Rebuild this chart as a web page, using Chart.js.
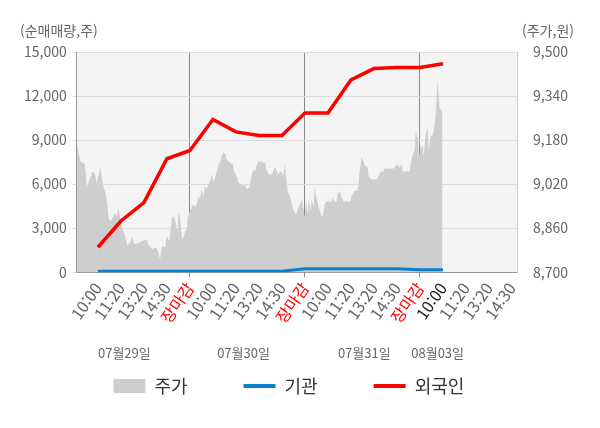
<!DOCTYPE html>
<html lang="ko">
<head>
  <meta charset="UTF-8">
  <title>순매매량 / 주가</title>
  <script src="https://cdn.jsdelivr.net/npm/chart.js"></script>
  <style>
    html, body { margin: 0; padding: 0; background: #fff; }
    #wrap { width: 600px; height: 428px; }
  </style>
</head>
<body>
  <div id="wrap"><canvas id="tradeChart"></canvas></div>
  <script>
    // x axis tick labels (one per step)
    const timeLabels = ["10:00", "11:20", "13:20", "14:30", "장마감",
                        "10:00", "11:20", "13:20", "14:30", "장마감",
                        "10:00", "11:20", "13:20", "14:30", "장마감",
                        "10:00", "11:20", "13:20", "14:30"];
    const dateLabels = ["07월29일", "07월30일", "07월31일", "08월03일"];
    const datePositions = [1.15, 6.33, 11.58, 14.77];

    const leftTicks = [0, 3000, 6000, 9000, 12000, 15000];
    const rightTicks = [8700, 8860, 9020, 9180, 9340, 9500];

    // net buying (shares), one value per time label
    const foreignNet = [1700, 3490, 4740, 7730, 8290, 10400, 9560, 9310, 9310,
                        10850, 10850, 13100, 13870, 13950, 13950, 14200];
    const institutionNet = [70, 70, 70, 70, 70, 70, 70, 70, 70,
                            230, 240, 240, 240, 240, 160, 160];

    // share price (won)
    const priceTimes = [-0.92, -0.83, -0.75, -0.66, -0.57, -0.53, -0.49, -0.44, -0.40, -0.31,
      -0.27, -0.19, -0.10, -0.06, 0.03, 0.12, 0.16, 0.25, 0.33, 0.42,
      0.46, 0.55, 0.68, 0.76, 0.81, 0.89, 0.98, 1.06, 1.19, 1.28,
      1.41, 1.50, 1.58, 1.84, 2.10, 2.19, 2.36, 2.53, 2.62, 2.70,
      2.79, 2.92, 3.00, 3.09, 3.13, 3.22, 3.31, 3.39, 3.44, 3.48,
      3.56, 3.65, 3.69, 3.78, 3.87, 3.91, 3.99, 4.08, 4.13, 4.25,
      4.38, 4.43, 4.51, 4.60, 4.64, 4.73, 4.81, 4.90, 4.94, 5.03,
      5.07, 5.16, 5.25, 5.33, 5.38, 5.46, 5.55, 5.59, 5.72, 5.86,
      5.94, 6.03, 6.11, 6.28, 6.42, 6.46, 6.58, 6.67, 6.75, 6.84,
      6.88, 6.97, 7.19, 7.27, 7.32, 7.44, 7.57, 7.62, 7.70, 7.79,
      7.83, 7.92, 8.00, 8.05, 8.13, 8.22, 8.26, 8.35, 8.39, 8.48,
      8.56, 8.61, 8.69, 8.78, 8.87, 8.91, 8.99, 9.04, 9.12, 9.16,
      9.25, 9.29, 9.38, 9.42, 9.51, 9.60, 9.68, 9.73, 9.81, 9.86,
      9.94, 10.07, 10.16, 10.20, 10.29, 10.38, 10.42, 10.51, 10.59, 10.64,
      10.68, 10.99, 11.03, 11.11, 11.20, 11.29, 11.33, 11.38, 11.46, 11.55,
      11.64, 11.72, 11.77, 11.85, 11.90, 12.11, 12.20, 12.28, 12.41, 12.45,
      12.88, 12.93, 13.09, 13.13, 13.18, 13.26, 13.56, 13.61, 13.69, 13.78,
      13.82, 13.91, 13.95, 14.04, 14.12, 14.16, 14.25, 14.34, 14.38, 14.47,
      14.55, 14.59, 14.68, 14.76, 14.81, 14.85, 14.94, 14.98];
    const priceValues = [9171, 9128, 9099, 9099, 9092, 9062, 9012, 9012, 9030, 9048,
      9062, 9066, 9048, 9019, 9055, 9081, 9048, 9008, 8990, 8939,
      8899, 8885, 8903, 8918, 8899, 8936, 8892, 8856, 8831, 8794,
      8812, 8827, 8802, 8809, 8820, 8802, 8783, 8791, 8773, 8747,
      8794, 8791, 8831, 8812, 8827, 8903, 8899, 8881, 8856, 8918,
      8903, 8831, 8820, 8845, 8856, 8903, 8918, 8939, 8947, 8936,
      8976, 8965, 9001, 8976, 9012, 9001, 9019, 9037, 9055, 9026,
      9037, 9066, 9092, 9102, 9121, 9135, 9128, 9110, 9099, 9092,
      9062, 9048, 9026, 9015, 9015, 9001, 9008, 9048, 9073, 9066,
      9084, 9102, 9099, 9099, 9073, 9055, 9055, 9066, 9084, 9066,
      9055, 9066, 9062, 9048, 9092, 9019, 8990, 8976, 8965, 8928,
      8918, 8910, 8928, 8947, 8965, 8936, 8899, 8965, 8910, 8965,
      8921, 8965, 8939, 9008, 8965, 8936, 8918, 8899, 8921, 8947,
      8957, 8957, 8954, 8972, 8954, 8957, 8983, 8994, 8972, 8965,
      8957, 8957, 8976, 8990, 8997, 8997, 9019, 9066, 9117, 9102,
      9084, 9084, 9048, 9041, 9037, 9037, 9048, 9066, 9066, 9077,
      9077, 9088, 9088, 9077, 9095, 9066, 9066, 9102, 9128, 9146,
      9215, 9182, 9117, 9157, 9157, 9121, 9200, 9229, 9142, 9197,
      9197, 9208, 9266, 9396, 9349, 9298, 9284, 9284];

    const fontFamily = "'Noto Sans CJK KR', 'Noto Sans', sans-serif";

    // light grey plot background
    const plotBackground = {
      id: "plotBackground",
      beforeDraw(chart) {
        const { ctx, chartArea } = chart;
        ctx.save();
        ctx.fillStyle = "#f4f4f4";
        ctx.fillRect(chartArea.left, chartArea.top, chartArea.right - chartArea.left, chartArea.bottom - chartArea.top);
        ctx.restore();
      }
    };

    // unit captions above both y axes
    const axisCaptions = {
      id: "axisCaptions",
      afterDraw(chart) {
        const { ctx, chartArea, scales } = chart;
        ctx.save();
        ctx.font = "14px " + fontFamily;
        ctx.fillStyle = "#666";
        ctx.textBaseline = "middle";
        ctx.textAlign = "left";
        ctx.fillText("(순매매량,주)", scales.y.left + 2, chartArea.top - 21);
        ctx.textAlign = "right";
        ctx.fillText("(주가,원)", scales.yPrice.right - 2, chartArea.top - 21);
        ctx.restore();
      }
    };

    // legend under the chart: grey box for price, short lines for the others
    const bottomLegend = {
      id: "bottomLegend",
      afterDraw(chart) {
        const { ctx } = chart;
        const swatch = 32, textGap = 9, itemGap = 56;
        ctx.save();
        ctx.font = "18px " + fontFamily;
        ctx.textBaseline = "middle";
        const items = chart.data.datasets.map((ds) => ({
          ds, w: swatch + textGap + ctx.measureText(ds.label).width
        }));
        const total = items.reduce((s, it) => s + it.w, 0) + itemGap * (items.length - 1);
        let x = (chart.chartArea.left + chart.chartArea.right) / 2 - 8 - total / 2;
        const y = chart.height - 42;
        items.forEach((it) => {
          if (it.ds.fill) {
            ctx.fillStyle = it.ds.backgroundColor;
            ctx.fillRect(x, y - 7, swatch, 14);
          } else {
            ctx.strokeStyle = it.ds.borderColor;
            ctx.lineWidth = 4;
            ctx.beginPath();
            ctx.moveTo(x, y);
            ctx.lineTo(x + swatch, y);
            ctx.stroke();
          }
          ctx.fillStyle = "#333";
          ctx.textAlign = "left";
          ctx.fillText(it.ds.label, x + swatch + textGap, y);
          x += it.w + itemGap;
        });
        ctx.restore();
      }
    };

    function buildChart() {
      const ctx = document.getElementById("tradeChart").getContext("2d");
      new Chart(ctx, {
        type: "line",
        data: {
          datasets: [{
            label: "주가",
            data: priceTimes.map((t, i) => ({ x: t, y: priceValues[i] })),
            yAxisID: "yPrice",
            borderWidth: 0,
            backgroundColor: "#cecece",
            fill: "start",
            pointRadius: 0,
            order: 3
          }, {
            label: "기관",
            data: institutionNet.map((v, i) => ({ x: i, y: v })),
            yAxisID: "y",
            borderColor: "#0a7fcf",
            backgroundColor: "#0a7fcf",
            borderWidth: 3,
            pointRadius: 0,
            fill: false,
            order: 2
          }, {
            label: "외국인",
            data: foreignNet.map((v, i) => ({ x: i, y: v })),
            yAxisID: "y",
            borderColor: "#ff0000",
            backgroundColor: "#ff0000",
            borderWidth: 3.5,
            pointRadius: 0,
            fill: false,
            order: 1
          }]
        },
        options: {
          responsive: true,
          maintainAspectRatio: false,
          animation: false,
          layout: { padding: { top: 52, left: 18, right: 24, bottom: 58 } },
          plugins: {
            tooltip: { enabled: false },
            legend: { display: false }
          },
          scales: {
            x: {
              type: "linear",
              min: -0.92,
              max: 18.22,
              afterBuildTicks(scale) {
                scale.ticks = timeLabels.map((_, i) => ({ value: i }));
              },
              grid: {
                color: (c) => (c.tick && timeLabels[c.tick.value] === "장마감") ? "#8a8a8a" : "transparent",
                tickLength: 5
              },
              border: { color: "#999" },
              ticks: {
                autoSkip: false,
                minRotation: 55,
                maxRotation: 55,
                padding: 2,
                font: { family: fontFamily, size: 16 },
                color: (c) => {
                  const t = timeLabels[c.tick.value];
                  if (t === "장마감") return "#ff0000";
                  return c.tick.value === 15 ? "#222" : "#666";
                },
                callback: (value) => timeLabels[value]
              }
            },
            xDate: {
              type: "linear",
              position: "bottom",
              min: -0.92,
              max: 18.22,
              afterBuildTicks(scale) {
                scale.ticks = datePositions.map((p) => ({ value: p }));
              },
              grid: { display: false },
              border: { display: false },
              ticks: {
                autoSkip: false,
                maxRotation: 0,
                padding: 9,
                color: "#666",
                font: { family: fontFamily, size: 13 },
                callback: (value, index) => dateLabels[index]
              }
            },
            y: {
              position: "left",
              min: leftTicks[0],
              max: leftTicks[leftTicks.length - 1],
              afterBuildTicks(scale) {
                scale.ticks = leftTicks.map((v) => ({ value: v }));
              },
              grid: { color: "#dcdcdc", tickLength: 4 },
              border: { color: "#999" },
              ticks: {
                padding: 6,
                color: "#666",
                font: { family: fontFamily, size: 14 },
                callback: (v) => v.toLocaleString("en-US")
              }
            },
            yPrice: {
              position: "right",
              min: rightTicks[0],
              max: rightTicks[rightTicks.length - 1],
              afterBuildTicks(scale) {
                scale.ticks = rightTicks.map((v) => ({ value: v }));
              },
              grid: { display: false },
              border: { color: "#ccc" },
              ticks: {
                padding: 8,
                color: "#666",
                font: { family: fontFamily, size: 14 },
                callback: (v) => v.toLocaleString("en-US")
              }
            }
          }
        },
        plugins: [plotBackground, axisCaptions, bottomLegend]
      });
    }

    window.onload = buildChart;
  </script>
</body>
</html>
